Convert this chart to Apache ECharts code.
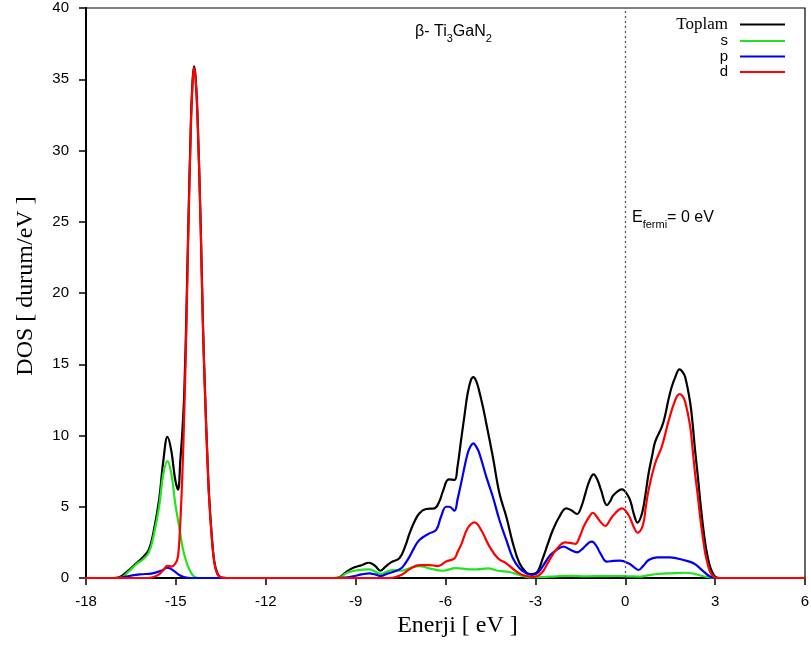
<!DOCTYPE html>
<html>
<head>
<meta charset="utf-8">
<script src="https://cdn.jsdelivr.net/npm/echarts@6/dist/echarts.min.js"></script>
<style>html,body{margin:0;padding:0;background:#fff}#c{width:811px;height:648px}</style>
</head>
<body>
<div id="c"></div>
<script>
const xTicks = [-18, -15, -12, -9, -6, -3, 0, 3, 6];
const seriesNames = ['Toplam', 's', 'p', 'd'];

const toplam = [[-18,0],[-17.1,0],[-16.9,0.05],[-16.6,0.5],[-16.3,1.07],[-16.1,1.45],[-15.9,2.0],[-15.75,3.2],[-15.56,5.5],[-15.42,8.2],[-15.28,9.9],[-15.15,8.9],[-15.03,7.0],[-14.93,6.2],[-14.85,8.3],[-14.78,10.4],[-14.72,13.0],[-14.65,18.5],[-14.6,23.3],[-14.5,31.9],[-14.44,35.0],[-14.39,35.9],[-14.34,35.1],[-14.28,32.6],[-14.17,24.6],[-14.1,18.1],[-14.02,12.6],[-13.95,8.6],[-13.89,5.7],[-13.8,2.9],[-13.72,1.2],[-13.62,0.35],[-13.5,0.05],[-13.3,0],[-9.7,0],[-9.54,0.05],[-9.3,0.45],[-9.04,0.75],[-8.8,0.9],[-8.56,1.07],[-8.35,0.85],[-8.18,0.51],[-8.0,0.8],[-7.82,1.1],[-7.54,1.38],[-7.35,2.2],[-7.2,3.13],[-7.05,3.9],[-6.87,4.54],[-6.65,4.84],[-6.37,4.89],[-6.2,5.4],[-6.09,6.06],[-5.89,6.92],[-5.70,6.88],[-5.6,7.8],[-5.48,9.68],[-5.36,11.5],[-5.26,12.96],[-5.15,13.9],[-5.07,14.1],[-4.97,13.8],[-4.87,13.07],[-4.75,12.0],[-4.64,10.86],[-4.42,8.51],[-4.20,5.94],[-3.97,4.30],[-3.75,2.43],[-3.53,1.03],[-3.3,0.37],[-3.15,0.27],[-2.95,0.38],[-2.75,1.4],[-2.6,2.3],[-2.41,3.4],[-2.2,4.3],[-1.97,4.89],[-1.8,4.75],[-1.61,4.49],[-1.45,5.1],[-1.33,5.94],[-1.2,6.8],[-1.06,7.27],[-0.93,6.9],[-0.81,6.18],[-0.61,5.12],[-0.5,5.4],[-0.39,5.82],[-0.11,6.22],[0.11,5.7],[0.2,5.2],[0.28,4.54],[0.41,3.88],[0.56,4.54],[0.67,5.8],[0.78,7.35],[0.9,8.6],[1.0,9.57],[1.22,10.6],[1.33,11.4],[1.44,12.5],[1.55,13.4],[1.67,14.1],[1.81,14.64],[1.9,14.5],[2.0,14.1],[2.17,12.26],[2.25,10.8],[2.33,8.98],[2.42,7.2],[2.5,5.47],[2.58,3.9],[2.67,2.43],[2.75,1.5],[2.83,0.8],[2.92,0.35],[3.0,0.1],[3.17,0],[6,0]];

const sOrb = [[-18,0],[-17.0,0],[-16.8,0.05],[-16.6,0.4],[-16.3,1.0],[-16.1,1.3],[-15.9,1.8],[-15.75,2.9],[-15.56,5.0],[-15.42,7.3],[-15.28,8.2],[-15.15,7.3],[-15.02,5.2],[-14.89,3.6],[-14.78,2.2],[-14.67,1.26],[-14.55,0.6],[-14.39,0.1],[-14.2,0],[-9.7,0],[-9.54,0.03],[-9.3,0.35],[-9.04,0.51],[-8.54,0.61],[-8.35,0.45],[-8.15,0.28],[-7.95,0.45],[-7.76,0.56],[-7.48,0.51],[-7.2,0.68],[-6.87,0.84],[-6.54,0.68],[-6.09,0.51],[-5.65,0.7],[-5.2,0.61],[-4.97,0.61],[-4.59,0.68],[-4.25,0.51],[-3.86,0.42],[-3.53,0.21],[-3.19,0.05],[-2.75,0.07],[-2.3,0.12],[-1.8,0.15],[-1.3,0.12],[-0.8,0.13],[-0.3,0.14],[0.1,0.12],[0.5,0.1],[0.8,0.2],[1.1,0.28],[1.5,0.33],[2.0,0.37],[2.3,0.3],[2.6,0.12],[2.9,0.02],[3.1,0],[6,0]];

const pOrb = [[-18,0],[-16.9,0],[-16.67,0.1],[-16.2,0.25],[-15.78,0.33],[-15.5,0.5],[-15.28,0.72],[-15.1,0.55],[-14.89,0.21],[-14.7,0.05],[-14.5,0],[-9.6,0],[-9.38,0.02],[-9.04,0.14],[-8.8,0.25],[-8.54,0.33],[-8.35,0.25],[-8.15,0.14],[-7.95,0.3],[-7.76,0.42],[-7.48,0.68],[-7.35,1.0],[-7.2,1.5],[-7.05,2.1],[-6.87,2.67],[-6.54,3.13],[-6.31,3.37],[-6.15,4.3],[-5.98,5.0],[-5.87,5.0],[-5.70,4.72],[-5.6,5.5],[-5.48,6.64],[-5.26,8.75],[-5.15,9.3],[-5.07,9.45],[-4.97,9.2],[-4.87,8.75],[-4.64,7.11],[-4.42,5.7],[-4.20,4.07],[-3.97,2.67],[-3.75,1.38],[-3.53,0.68],[-3.3,0.33],[-3.1,0.21],[-2.9,0.4],[-2.7,1.0],[-2.5,1.61],[-2.3,1.96],[-2.06,2.2],[-1.85,2.0],[-1.61,1.8],[-1.4,2.1],[-1.2,2.5],[-1.11,2.55],[-0.95,2.2],[-0.83,1.73],[-0.61,1.15],[-0.4,1.2],[-0.17,1.22],[0.11,1.03],[0.3,0.75],[0.44,0.56],[0.6,0.85],[0.78,1.26],[1.06,1.45],[1.5,1.45],[1.94,1.26],[2.28,1.03],[2.56,0.56],[2.83,0.1],[3.06,0],[6,0]];

const dOrb = [[-18,0],[-15.9,0],[-15.6,0.2],[-15.4,0.6],[-15.28,0.86],[-15.15,0.8],[-15.02,1.0],[-14.93,1.5],[-14.85,4.0],[-14.78,7.5],[-14.72,11.6],[-14.65,17.5],[-14.6,22.7],[-14.5,31.6],[-14.44,34.8],[-14.39,35.8],[-14.34,35.0],[-14.28,32.5],[-14.17,24.5],[-14.1,18],[-14.02,12.5],[-13.95,8.5],[-13.89,5.6],[-13.8,2.8],[-13.72,1.1],[-13.62,0.3],[-13.5,0.05],[-13.3,0],[-7.9,0],[-7.76,0.02],[-7.48,0.21],[-7.15,0.68],[-6.87,0.91],[-6.54,0.91],[-6.26,0.84],[-5.98,1.15],[-5.70,1.38],[-5.6,1.8],[-5.48,2.32],[-5.26,3.49],[-5.03,3.91],[-4.81,3.37],[-4.53,2.2],[-4.25,1.38],[-3.97,1.03],[-3.7,0.56],[-3.42,0.21],[-3.08,0.08],[-2.8,0.33],[-2.53,1.26],[-2.3,2.0],[-2.0,2.5],[-1.8,2.45],[-1.67,2.39],[-1.5,3.0],[-1.39,3.6],[-1.2,4.3],[-1.08,4.58],[-0.95,4.3],[-0.83,3.95],[-0.67,3.65],[-0.5,4.1],[-0.39,4.42],[-0.11,4.89],[0.11,4.42],[0.28,3.6],[0.41,3.18],[0.59,3.72],[0.68,4.9],[0.78,6.18],[1.0,8.05],[1.22,9.22],[1.44,10.97],[1.67,12.5],[1.81,12.91],[1.9,12.8],[2.0,12.37],[2.17,10.6],[2.25,9.0],[2.33,7.35],[2.42,5.8],[2.5,4.3],[2.58,3.0],[2.67,1.73],[2.75,1.0],[2.83,0.44],[2.95,0.1],[3.06,0],[6,0]];

const seriesData = [toplam, sOrb, pOrb, dOrb];
const colors = ['#000000', '#1ee61e', '#0000f0', '#ff0000'];

const chart = echarts.init(document.getElementById('c'));
const sans = 'Liberation Sans, Arial, sans-serif';
const serif = 'Liberation Serif, Times New Roman, serif';

const series = seriesNames.map((n, i) => ({
  name: n,
  type: 'line',
  data: seriesData[i],
  showSymbol: false,
  symbol: 'none',
  smooth: 0.4,
  color: colors[i],
  lineStyle: { width: 2.2, color: colors[i], join: 'round', cap: 'round' },
  silent: true,
  z: 2 + i,
  markLine: i === 0 ? {
    silent: true,
    symbol: ['none', 'none'],
    label: { show: false },
    lineStyle: { type: [2, 3], color: '#555', width: 1.3 },
    data: [{ xAxis: 0 }]
  } : undefined
}));

chart.setOption({
  animation: false,
  backgroundColor: '#fff',
  grid: { left: 86, right: 6, top: 8, bottom: 70, show: true, borderColor: '#000', borderWidth: 1.2, containLabel: false, outerBoundsMode: 'none' },
  xAxis: {
    type: 'value', min: -18, max: 6, interval: 3,
    axisLine: { show: true, onZero: false, lineStyle: { color: '#000', width: 2 } },
    axisTick: { show: true, length: 7, lineStyle: { color: '#000', width: 1.5 } },
    axisLabel: { fontSize: 15, color: '#000', margin: 16, fontFamily: sans, customValues: xTicks },
    splitLine: { show: false },
    name: 'Enerji [ eV ]', nameLocation: 'middle', nameGap: 34,
    nameTextStyle: { fontFamily: serif, fontSize: 24, color: '#000', padding: [0, 0, 0, 24] }
  },
  yAxis: {
    type: 'value', min: 0, max: 40, interval: 5,
    axisLine: { show: true, onZero: false, lineStyle: { color: '#000', width: 2 } },
    axisTick: { show: true, length: 7, lineStyle: { color: '#000', width: 1.5 } },
    axisLabel: { fontSize: 15, color: '#000', margin: 17, fontFamily: sans },
    splitLine: { show: false },
    name: 'DOS [ durum/eV ]', nameLocation: 'middle', nameGap: 48,
    nameTextStyle: { fontFamily: serif, fontSize: 24, color: '#000', padding: [0, 0, 0, 14] }
  },
  legend: {
    orient: 'vertical', right: 21, top: 11, align: 'right',
    icon: 'rect', itemWidth: 45, itemHeight: 2, itemGap: 0.5,
    selectedMode: false,
    textStyle: { fontFamily: sans, fontSize: 15, color: '#000', width: 60, align: 'right', lineHeight: 15, padding: [0, 7, 0, 0] },
    data: [
      { name: 'Toplam', textStyle: { fontFamily: serif, fontSize: 17 } },
      { name: 's' }, { name: 'p' }, { name: 'd' }
    ]
  },
  graphic: [
    {
      type: 'text', left: 415, top: 24, silent: true,
      style: {
        text: '{m|β- Ti}{s|3}{m|GaN}{s|2}',
        fill: '#000',
        rich: {
          m: { fontSize: 16, fontFamily: sans, lineHeight: 24, fill: '#000' },
          s: { fontSize: 11, fontFamily: sans, lineHeight: 11, verticalAlign: 'bottom', fill: '#000' }
        }
      }
    },
    {
      type: 'text', left: 632, top: 210, silent: true,
      style: {
        text: '{m|E}{s|fermi}{m|= 0 eV}',
        fill: '#000',
        rich: {
          m: { fontSize: 16, fontFamily: sans, lineHeight: 24, fill: '#000' },
          s: { fontSize: 11, fontFamily: sans, lineHeight: 11, verticalAlign: 'bottom', fill: '#000' }
        }
      }
    }
  ],
  series: series
});
</script>
</body>
</html>
